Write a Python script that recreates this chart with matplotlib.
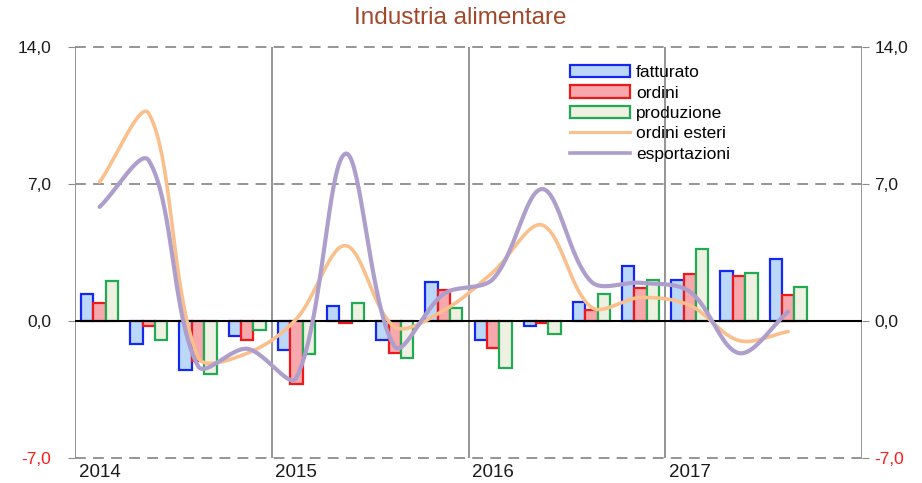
import numpy as np
import matplotlib
matplotlib.use("Agg")
import matplotlib.pyplot as plt
from matplotlib.patches import Patch
from matplotlib.lines import Line2D

plt.rcParams['font.family'] = ['Liberation Sans', 'DejaVu Sans']

# ---- data ----
years = ["2014", "2015", "2016", "2017"]
quarters = 15
fatturato = [1.38, -1.19, -2.5, -0.77, -1.48, 0.77, -0.97, 1.97, -0.97, -0.26, 0.95, 2.8, 2.07, 2.58, 3.17]
ordini = [0.9, -0.26, -2.05, -0.97, -3.23, -0.08, -1.62, 1.58, -1.39, -0.08, 0.56, 1.67, 2.4, 2.29, 1.35]
produzione = [2.06, -0.97, -2.72, -0.46, -1.7, 0.9, -1.9, 0.65, -2.41, -0.68, 1.36, 2.07, 3.68, 2.46, 1.76]
ordini_esteri = [7.1, 10.6, -1.85, -1.65, 0.1, 3.85, -0.3, 0.55, 2.5, 4.9, 0.7, 1.2, 0.8, -1.0, -0.54]
esportazioni = [5.83, 8.2, -2.3, -1.42, -2.9, 8.55, -1.3, 1.39, 2.15, 6.74, 2.0, 1.95, 1.5, -1.64, 0.48]
yticks = [-7.0, 0.0, 7.0, 14.0]
ytick_labels = ["-7,0", "0,0", "7,0", "14,0"]

W, H = 922, 483
fig = plt.figure(figsize=(W / 100, H / 100), dpi=100)
L, R, T, B = 75, 862, 47, 458
ax = fig.add_axes([L / W, 1 - B / H, (R - L) / W, (B - T) / H])
nq = 16
ax.set_xlim(-0.5, nq - 0.5)
ax.set_ylim(-7, 14)

x = np.arange(quarters)
bw = 0.252
c_blue, e_blue = "#bcd8f8", "#1428f0"
c_red, e_red = "#f6a8ac", "#f01818"
c_grn, e_grn = "#eef0e2", "#22aa52"
ax.bar(x - bw, fatturato, width=bw, color=c_blue, edgecolor=e_blue, linewidth=1.6, zorder=3)
ax.bar(x, ordini, width=bw, color=c_red, edgecolor=e_red, linewidth=1.6, zorder=3)
ax.bar(x + bw, produzione, width=bw, color=c_grn, edgecolor=e_grn, linewidth=1.6, zorder=3)

# smoothing (Excel-like bezier, computed in pixel space)
sx = (R - L) / nq
sy = (B - T) / 21.0


def smooth(vals, n=40):
    P = np.column_stack([np.arange(len(vals)) * sx, np.asarray(vals) * sy])
    m = len(P)

    def d(i, j):
        return np.hypot(*(P[j] - P[i]))
    out = []
    for i in range(m - 1):
        p0 = P[i - 1] if i > 0 else P[i]
        p3 = P[i + 2] if i + 2 < m else P[i + 1]
        d01 = d(i - 1, i) if i > 0 else 0.0
        d12 = d(i, i + 1)
        d23 = d(i + 1, i + 2) if i + 2 < m else 0.0
        t1 = P[i + 1] - p0
        t2 = p3 - P[i]
        c1 = P[i] + t1 * (d12 / (d01 + d12)) / 3
        c2 = P[i + 1] - t2 * (d12 / (d12 + d23)) / 3
        t = np.linspace(0, 1, n)[:, None]
        seg = ((1 - t) ** 3) * P[i] + 3 * ((1 - t) ** 2) * t * c1 + 3 * (1 - t) * t ** 2 * c2 + t ** 3 * P[i + 1]
        out.append(seg if i == 0 else seg[1:])
    pts = np.vstack(out)
    return pts[:, 0] / sx, pts[:, 1] / sy


c_or, c_pu = "#f9bf8c", "#ae9ecb"
ox, oy = smooth(ordini_esteri)
ex, ey = smooth(esportazioni)
ax.plot(ox, oy, color=c_or, lw=2.6, zorder=5, solid_capstyle="round")
ax.plot(ex, ey, color=c_pu, lw=3.0, zorder=5, solid_capstyle="round")

# grid lines
for yv in [7, 14, -7]:
    ax.axhline(yv, color="#8c8c8c", lw=1.3, ls=(0, (6, 4)), zorder=1, clip_on=False)
ax.axhline(0, color="black", lw=1.5, zorder=4)
for k in range(5):
    ax.axvline(-0.5 + 4 * k, color="#8c8c8c", lw=1.3, zorder=1)

for s in ax.spines.values():
    s.set_visible(False)

ax.set_yticks(yticks)
ax.set_yticklabels(ytick_labels)
ax.tick_params(axis="y", length=5, color="#8c8c8c", labelsize=12.5, pad=12)

ax2 = ax.twinx()
ax2.set_ylim(-7, 14)
ax2.set_yticks(yticks)
ax2.set_yticklabels(ytick_labels)
ax2.tick_params(axis="y", length=5, color="#8c8c8c", labelsize=12.5, pad=4)
for s in ax2.spines.values():
    s.set_visible(False)
for a in (ax, ax2):
    for lab in a.get_yticklabels():
        lab.set_color("#ff1a1a" if lab.get_text().startswith("-") else "#1a1a1a")

ax.set_xticks([4 * k for k in range(4)])
ax.set_xticklabels(years)
ax.tick_params(axis="x", length=0, labelsize=13.5, pad=4, labelcolor="#1a1a1a")

fig.text(460 / W, 1 - 18 / H, "Industria alimentare", color="#a2482a", fontsize=17.5,
         ha="center", va="center")

handles = [
    Patch(facecolor=c_blue, edgecolor=e_blue, linewidth=1.6, label="fatturato"),
    Patch(facecolor=c_red, edgecolor=e_red, linewidth=1.6, label="ordini"),
    Patch(facecolor=c_grn, edgecolor=e_grn, linewidth=1.6, label="produzione"),
    Line2D([], [], color=c_or, lw=2.2, label="ordini esteri"),
    Line2D([], [], color=c_pu, lw=2.6, label="esportazioni"),
]
ax.legend(handles=handles, loc="upper left", bbox_to_anchor=((570 - L) / (R - L), (B - 65) / (B - T)),
          frameon=False, fontsize=12.5, handlelength=3.45, handleheight=0.7,
          labelspacing=0.3, handletextpad=0.35, borderpad=0, borderaxespad=0)

fig.savefig("out.png", dpi=100)
